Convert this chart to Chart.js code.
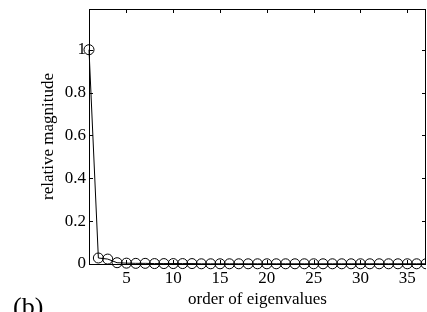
<!DOCTYPE html>
<html>
<head>
<meta charset="utf-8">
<script src="https://cdn.jsdelivr.net/npm/chart.js@4/dist/chart.umd.min.js"></script>
<style>
  html, body { margin: 0; padding: 0; background: #fff; }
  #wrap { width: 427px; height: 312px; position: relative; }
</style>
</head>
<body>
<div id="wrap"><canvas id="eigChart"></canvas></div>
<script>
const orders = [];
for (let i = 1; i <= 37; i++) orders.push(i);

const magnitudes = [
  1.0, 0.028, 0.023, 0.006, 0.004, 0.003, 0.003, 0.002, 0.002, 0.002,
  0.002, 0.002, 0.001, 0.001, 0.001, 0.001, 0.001, 0.001, 0.001, 0.001,
  0.001, 0.001, 0.001, 0.001, 0.001, 0.001, 0.001, 0.001, 0.001, 0.001,
  0.001, 0.001, 0.001, 0.001, 0.001, 0.001, 0.001
];

const xTicks = [5, 10, 15, 20, 25, 30, 35];
const yTicks = [0, 0.2, 0.4, 0.6, 0.8, 1];
const yTickLabels = ["0", "0.2", "0.4", "0.6", "0.8", "1"];

const SERIF = "'Liberation Serif', 'DejaVu Serif', serif";

// MATLAB style box with inward ticks, plus the panel tag
const boxPlugin = {
  id: "box",
  afterDraw(chart) {
    const { ctx, chartArea: a, scales } = chart;
    const tl = 4;
    ctx.save();
    ctx.strokeStyle = "#000";
    ctx.lineWidth = 1;
    ctx.strokeRect(a.left + 0.5, a.top + 0.5, a.right - a.left - 1, a.bottom - a.top);
    ctx.beginPath();
    xTicks.forEach(v => {
      const x = Math.round(scales.x.getPixelForValue(v)) + 0.5;
      ctx.moveTo(x, a.bottom); ctx.lineTo(x, a.bottom - tl);
      ctx.moveTo(x, a.top); ctx.lineTo(x, a.top + tl);
    });
    yTicks.forEach(v => {
      const y = Math.round(scales.y.getPixelForValue(v)) + 0.5;
      ctx.moveTo(a.left, y); ctx.lineTo(a.left + tl, y);
      ctx.moveTo(a.right, y); ctx.lineTo(a.right - tl, y);
    });
    ctx.stroke();

    ctx.fillStyle = "#000";
    ctx.font = "26px " + SERIF;
    ctx.textBaseline = "alphabetic";
    ctx.fillText("(b)", 13, 315);
    ctx.restore();
  }
};

new Chart(document.getElementById("eigChart"), {
  type: "line",
  data: {
    labels: orders,
    datasets: [{
      data: orders.map((x, i) => ({ x: x, y: magnitudes[i] })),
      borderColor: "#000",
      borderWidth: 1,
      backgroundColor: "transparent",
      pointRadius: 5,
      pointBorderWidth: 1,
      pointBorderColor: "#000",
      pointBackgroundColor: "transparent",
      tension: 0,
      clip: { left: 6, right: 0, top: 6, bottom: 6 }
    }]
  },
  options: {
    responsive: true,
    maintainAspectRatio: false,
    animation: false,
    layout: { autoPadding: false, padding: { top: 9, right: 1, left: 0, bottom: 0 } },
    plugins: { legend: { display: false }, tooltip: { enabled: false } },
    scales: {
      x: {
        type: "linear",
        min: 1,
        max: 37,
        afterBuildTicks(s) { s.ticks = xTicks.map(v => ({ value: v })); },
        afterFit(s) { s.height = 48; s.paddingLeft = 0; s.paddingRight = 0; },
        grid: { display: false, drawTicks: false },
        border: { display: false },
        ticks: { color: "#000", padding: 4, maxRotation: 0, font: { family: SERIF, size: 17 } },
        title: {
          display: true,
          text: "order of eigenvalues",
          color: "#000",
          font: { family: SERIF, size: 17 },
          padding: { top: 0, bottom: 2 }
        }
      },
      y: {
        min: 0,
        max: 1.19,
        afterBuildTicks(s) { s.ticks = yTicks.map(v => ({ value: v })); },
        afterFit(s) { s.width = 89; s.paddingTop = 0; s.paddingBottom = 0; },
        grid: { display: false, drawTicks: false },
        border: { display: false },
        ticks: {
          color: "#000",
          padding: 3,
          font: { family: SERIF, size: 17 },
          callback: (v) => yTickLabels[yTicks.indexOf(v)] ?? ""
        },
        title: {
          display: true,
          text: "relative magnitude",
          color: "#000",
          font: { family: SERIF, size: 17 },
          padding: { top: 38, bottom: 0 }
        }
      }
    }
  },
  plugins: [boxPlugin]
});
</script>
</body>
</html>
